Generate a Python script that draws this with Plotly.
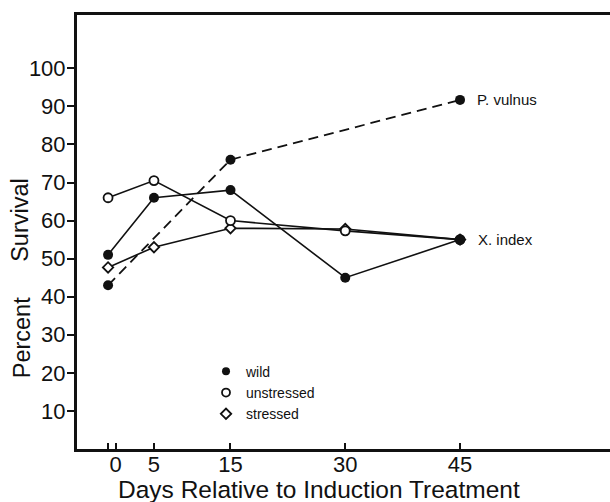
import plotly.graph_objects as go

days = [-1, 5, 15, 30, 45]
wild = [51, 66, 68, 45, 55]
unstressed = [66, 70.5, 60, 57.3, 55]
stressed = [47.7, 53, 58, 57.8, 55]

pv_days = [-1, 15, 45]
p_vulnus = [43, 76, 91.7]

xtick_vals = [-1, 0, 5, 15, 30, 45]
xtick_text = ["", "0", "5", "15", "30", "45"]
ytick_vals = [10, 20, 30, 40, 50, 60, 70, 80, 90, 100]

FONT = "Liberation Sans, Arial, sans-serif"
BLACK = "#111111"

fig = go.Figure()

fig.add_trace(go.Scatter(
    x=pv_days, y=p_vulnus, mode="lines+markers", showlegend=False,
    line=dict(color=BLACK, width=1.8, dash="10px,6px"),
    marker=dict(symbol="circle", size=10, color=BLACK)))
fig.add_trace(go.Scatter(
    x=days, y=stressed, mode="lines+markers", showlegend=False,
    line=dict(color=BLACK, width=1.6),
    marker=dict(symbol="diamond", size=8, color="white",
                line=dict(color=BLACK, width=1.8))))
fig.add_trace(go.Scatter(
    x=days, y=unstressed, mode="lines+markers", showlegend=False,
    line=dict(color=BLACK, width=1.6),
    marker=dict(symbol="circle", size=9, color="white",
                line=dict(color=BLACK, width=1.8))))
fig.add_trace(go.Scatter(
    x=days, y=wild, mode="lines+markers", showlegend=False,
    line=dict(color=BLACK, width=1.6),
    marker=dict(symbol="circle", size=10, color=BLACK)))

# legend-only entries
fig.add_trace(go.Scatter(x=[None], y=[None], mode="markers", name="wild",
                         marker=dict(symbol="circle", size=8, color=BLACK)))
fig.add_trace(go.Scatter(x=[None], y=[None], mode="markers", name="unstressed",
                         marker=dict(symbol="circle", size=8, color="white",
                                     line=dict(color=BLACK, width=1.8))))
fig.add_trace(go.Scatter(x=[None], y=[None], mode="markers", name="stressed",
                         marker=dict(symbol="diamond", size=8, color="white",
                                     line=dict(color=BLACK, width=1.8))))

fig.add_annotation(x=pv_days[-1], y=p_vulnus[-1], text="P. vulnus",
                   showarrow=False, xanchor="left", xshift=15,
                   font=dict(size=15, color=BLACK, family=FONT))
fig.add_annotation(x=days[-1], y=wild[-1], text="X. index",
                   showarrow=False, xanchor="left", xshift=16,
                   font=dict(size=15, color=BLACK, family=FONT))

PH = 434.3
# y axis title in two parts
fig.add_annotation(xref="paper", yref="paper", x=(20 - 77) / 533,
                   y=(449.3 - 220) / PH, xanchor="center", yanchor="middle",
                   text="Survival", textangle=-90, showarrow=False,
                   font=dict(size=23.5, color=BLACK, family=FONT))
fig.add_annotation(xref="paper", yref="paper", x=(22 - 77) / 533,
                   y=(449.3 - 338.5) / PH, xanchor="center", yanchor="middle",
                   text="Percent", textangle=-90, showarrow=False,
                   font=dict(size=23.5, color=BLACK, family=FONT))
# x axis title
fig.add_annotation(xref="paper", yref="paper", x=(319 - 77) / 533,
                   y=(449.3 - 490) / PH, xanchor="center", yanchor="middle",
                   text="Days Relative to Induction Treatment", showarrow=False,
                   font=dict(size=24.5, color=BLACK, family=FONT))

fig.update_layout(
    width=610, height=502,
    margin=dict(l=77, r=0, t=15, b=53),
    paper_bgcolor="white", plot_bgcolor="white",
    font=dict(family=FONT, color=BLACK),
    legend=dict(x=(206 - 77) / 533, y=(449.3 - 356) / PH,
                xanchor="left", yanchor="top",
                font=dict(size=14, color=BLACK, family=FONT),
                bgcolor="rgba(0,0,0,0)", borderwidth=0, tracegroupgap=0),
    xaxis=dict(range=[-5.06, 64.6], tickmode="array", tickvals=xtick_vals,
               ticktext=xtick_text, ticks="inside", ticklen=6, tickwidth=1.5,
               tickcolor=BLACK, showline=True, linecolor=BLACK, linewidth=3,
               mirror=True, showgrid=False, zeroline=False,
               ticklabelstandoff=-6,
               tickfont=dict(size=22, color=BLACK, family=FONT)),
    yaxis=dict(range=[0, 114], tickmode="array", tickvals=ytick_vals,
               ticks="outside", ticklen=7, tickwidth=1.5, tickcolor=BLACK,
               showline=True, linecolor=BLACK, linewidth=3, mirror=False,
               showgrid=False, zeroline=False, ticklabelstandoff=-3,
               tickfont=dict(size=22, color=BLACK, family=FONT)),
)

fig.write_html("out.html",
               config={"displayModeBar": False},
               post_script="document.body.style.margin='0';"
                           "document.body.style.overflow='hidden';")
